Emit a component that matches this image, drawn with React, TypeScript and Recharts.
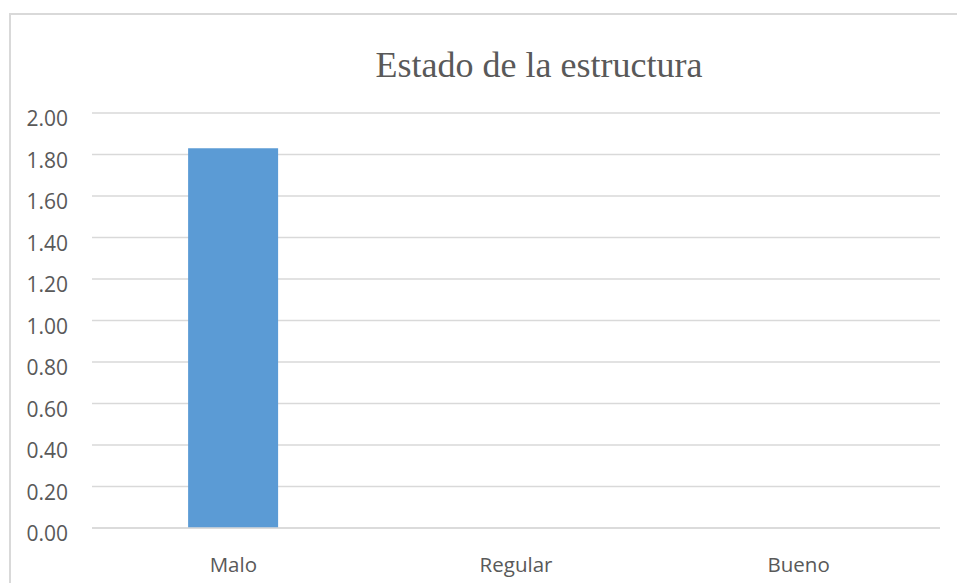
import React from 'react';
import { BarChart, Bar, XAxis, YAxis, CartesianGrid } from 'recharts';

const categories = ['Malo', 'Regular', 'Bueno'];
const values = [1.83, 0, 0];
const yTicks = [0, 0.2, 0.4, 0.6, 0.8, 1.0, 1.2, 1.4, 1.6, 1.8, 2.0];
const title = 'Estado de la estructura';

const data = categories.map((c, i) => ({ name: c, value: values[i] }));

const YTick = (props: any) => {
  const { x, y, payload } = props;
  return (
    <text x={x} y={y} dy={13} textAnchor="end" fill="#595959" fontSize={21} fontFamily="'Open Sans', sans-serif">
      {Number(payload.value).toFixed(2)}
    </text>
  );
};

const XTick = (props: any) => {
  const { x, y, payload } = props;
  return (
    <text x={x} y={y} dy={13} textAnchor="middle" fill="#595959" fontSize={20.5} fontFamily="'Open Sans', sans-serif">
      {payload.value}
    </text>
  );
};

export default function App() {
  return (
    <div style={{ position: 'absolute', left: 0, top: 0, width: 957, height: 583, overflow: 'hidden', background: '#fff' }}>
      <div style={{ position: 'absolute', left: 9, top: 13, width: 1200, height: 800, border: '2px solid #d9d9d9', boxSizing: 'border-box' }} />
      <div style={{ position: 'absolute', left: 0, top: 42, width: 1078, textAlign: 'center', fontFamily: "'Liberation Serif', serif", fontSize: 36, color: '#595959', lineHeight: '46px' }}>
        {title}
      </div>
      <div style={{ position: 'absolute', left: 0, top: 0 }}>
        <BarChart width={957} height={583} data={data} margin={{ top: 113, right: 17, bottom: 25, left: 0 }} barCategoryGap="34%">
          <CartesianGrid horizontal vertical={false} stroke="#d9d9d9" strokeWidth={1.5} />
          <XAxis dataKey="name" height={30} axisLine={{ stroke: '#d9d9d9', strokeWidth: 1.5 }} tickLine={false} tickSize={0} tickMargin={31} tick={<XTick />} />
          <YAxis domain={[0, 2]} ticks={yTicks} width={92} axisLine={false} tickLine={false} tickSize={0} tickMargin={24} tick={<YTick />} interval={0} />
          <Bar dataKey="value" fill="#5b9bd5" isAnimationActive={false} />
        </BarChart>
      </div>
    </div>
  );
}
